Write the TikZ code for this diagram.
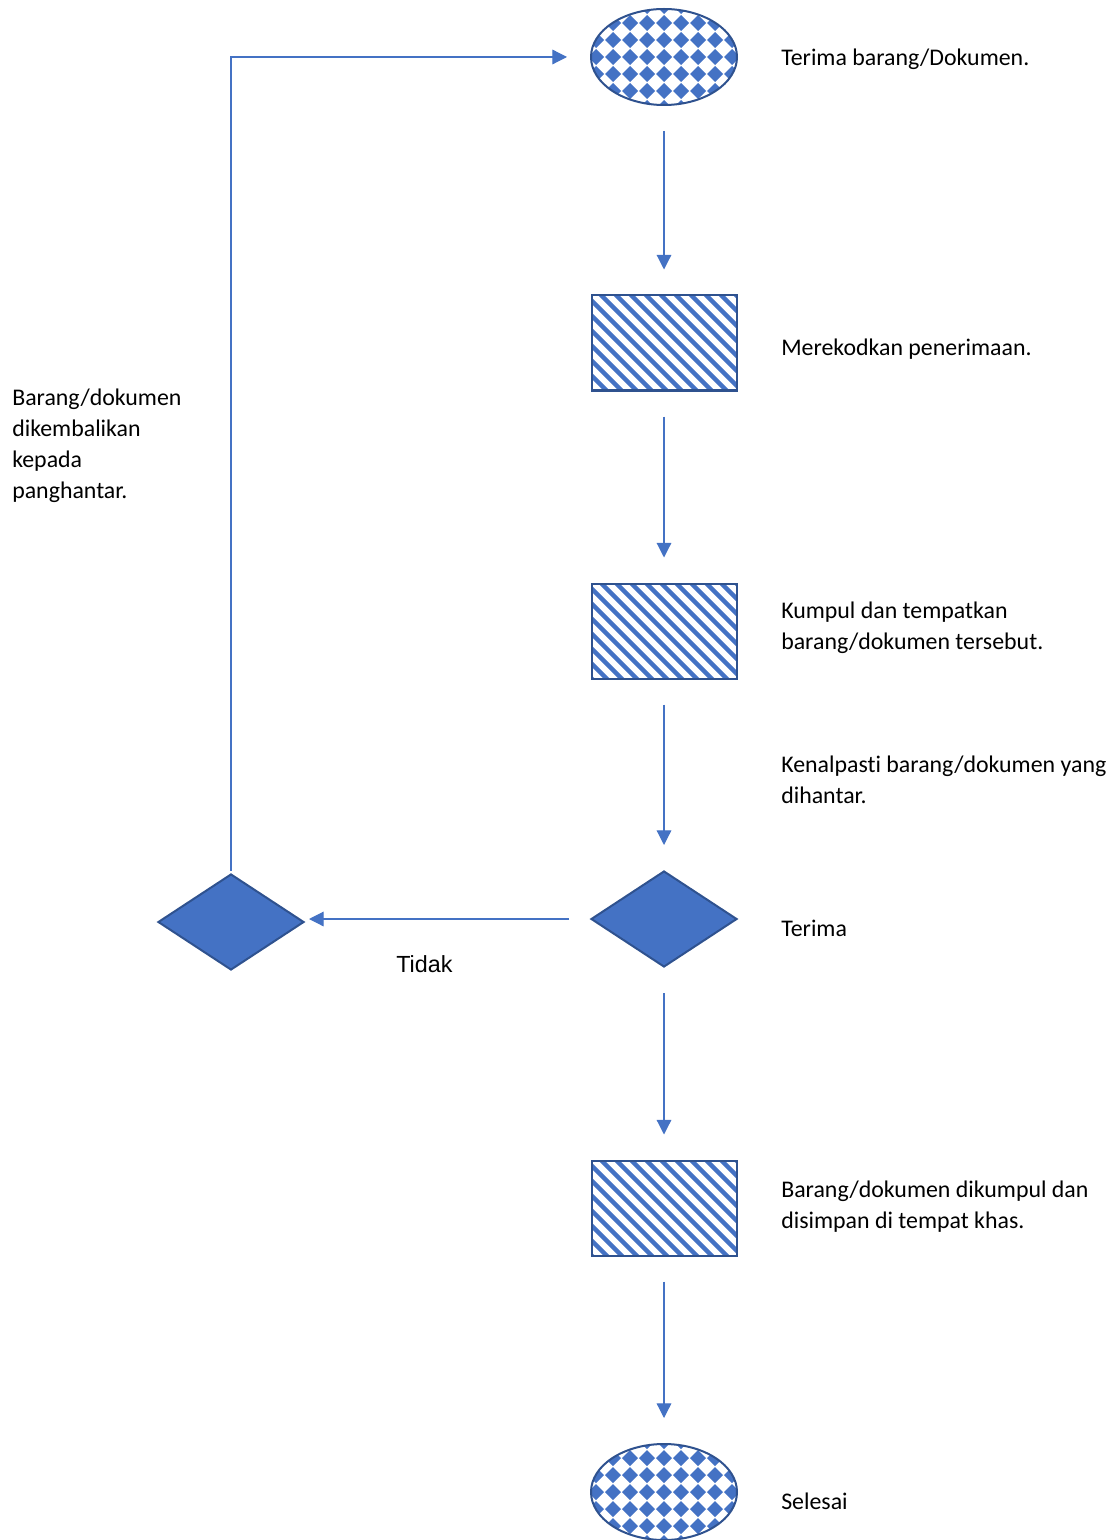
\documentclass[tikz,border=0pt]{standalone}
\usepackage{fontspec}
\setmainfont{Carlito}[Ligatures=NoCommon]
\newfontfamily\arialfont{Liberation Sans}
\usetikzlibrary{shapes.geometric,arrows.meta}
\definecolor{flowblue}{HTML}{4472C4}
\definecolor{flowedge}{HTML}{2F528F}

\begin{document}
\begin{tikzpicture}[x=0.75pt,y=-0.75pt,
    dots/.style={ellipse,draw=flowedge,line width=1.5pt,fill=white,
      minimum width=109.5pt,minimum height=72pt,inner sep=0pt,
      path picture={
        \foreach \i in {-5,...,5}
          \foreach \j in {-3,...,3}
            \fill[flowblue] ([shift={(\i*17,\j*17)}]path picture bounding box.center)
              +(-8,0) -- +(0,-8) -- +(8,0) -- +(0,8) -- cycle;
      }},
    stripes/.style={rectangle,draw=flowedge,line width=1.5pt,fill=white,
      minimum width=108.75pt,minimum height=71.25pt,inner sep=0pt,
      path picture={
        \foreach \k in {-9,...,9}
          \draw[flowblue,line width=3.4pt] ([shift={(\k*15,0)}]path picture bounding box.center)
            +(-70,-70) -- +(70,70);
      }},
    choice/.style={diamond,draw=flowedge,line width=1.5pt,fill=flowblue,
      minimum width=109.5pt,minimum height=72pt,inner sep=0pt},
    flow/.style={draw=flowblue,line width=0.9pt,-{Triangle[length=11pt,width=11pt]},
      shorten <=18.75pt,shorten >=18.75pt},
    note/.style={anchor=west,inner sep=0pt,align=left,font=\fontsize{17.9}{23.3}\selectfont}]

    \useasboundingbox (0,0) rectangle (1118,1540);

    % shapes
    \node[dots] (start) at (664,57) {};
    \node[stripes] (record) at (664,343) {};
    \node[stripes] (collect) at (664,631) {};
    \node[choice] (check) at (664,919) {};
    \node[choice] (reject) at (231,922) {};
    \node[stripes] (store) at (664,1208) {};
    \node[dots] (finish) at (664,1492) {};

    % arrows
    \draw[flow] (start) -- (record);
    \draw[flow] (record) -- (collect);
    \draw[flow] (collect) -- (check);
    \draw[flow] (check) -- (store);
    \draw[flow] (store) -- (finish);
    \draw[flow,shorten <=15.75pt,shorten >=3pt] (check.west) -- (check.west -| reject.east);
    \draw[flow,shorten <=1.5pt,shorten >=17.25pt] (reject.north) |- (start.west);

    % texts
    \node[note] (t1) at (781,59) {Terima barang/Dokumen.};
    \node[note] (t2) at (781,349) {Merekodkan penerimaan.};
    \node[note] (t3) at (781,627.5) {Kumpul dan tempatkan\\barang/dokumen tersebut.};
    \node[note] (t4) at (781,780) {Kenalpasti barang/dokumen yang\\dihantar.};
    \node[note] (t5) at (781,928) {Terima};
    \node[note,font=\arialfont\fontsize{17.5}{21}\selectfont] (t6) at (396,964) {Tidak};
    \node[note] (t7) at (781,1206.5) {Barang/dokumen dikumpul dan\\disimpan di tempat khas.};
    \node[note] (t8) at (781,1501) {Selesai};
    \node[note] (t9) at (12,446) {Barang/dokumen\\dikembalikan\\kepada\\panghantar.};
\end{tikzpicture}
\end{document}
